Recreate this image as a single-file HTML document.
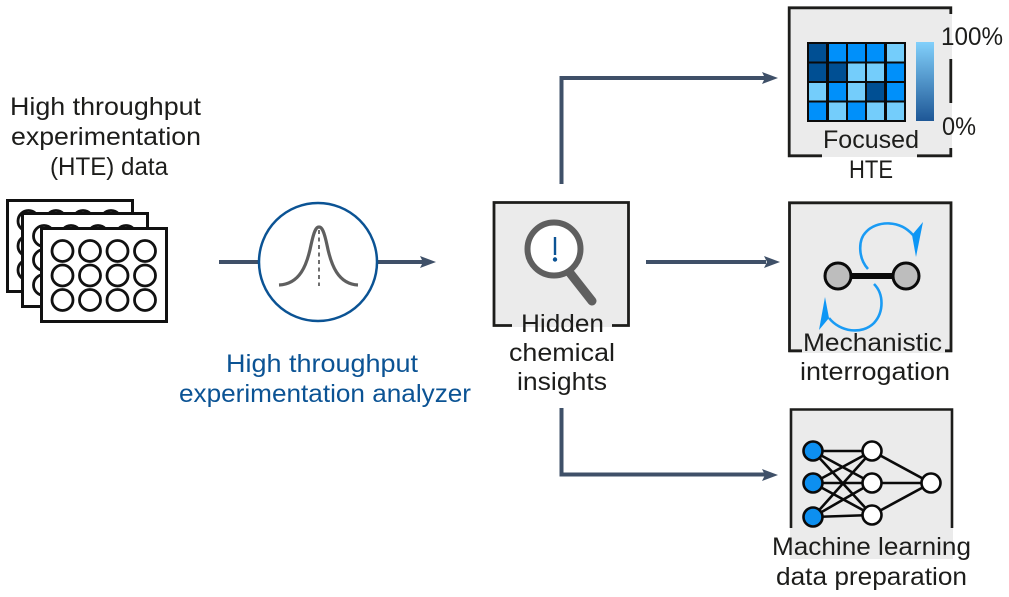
<!DOCTYPE html>
<html><head><meta charset="utf-8"><style>
html,body{margin:0;padding:0;background:#fff;width:1009px;height:597px;overflow:hidden}
svg{display:block}
text{font-family:"Liberation Sans",sans-serif;font-size:25px;fill:#1d1d1b}
.b{fill:#0b5394}
</style></head><body>
<svg width="1009" height="597" viewBox="0 0 1009 597" xmlns="http://www.w3.org/2000/svg">
<!-- plates -->
<g stroke="#111" fill="#fff">
<rect x="7.500" y="200.500" width="125" height="91" stroke-width="3"/>
<g fill="none" stroke-width="2.800"><circle cx="28.500" cy="221" r="10.500"/><circle cx="28.500" cy="246" r="10.500"/><circle cx="28.500" cy="270" r="10.500"/><circle cx="56" cy="221" r="10.500"/><circle cx="83" cy="221" r="10.500"/><circle cx="111" cy="221" r="10.500"/></g>
<rect x="22.500" y="213.500" width="125" height="93" stroke-width="3"/>
<g fill="none" stroke-width="2.800"><circle cx="44" cy="236" r="10.500"/><circle cx="44" cy="260" r="10.500"/><circle cx="44" cy="285" r="10.500"/><circle cx="71" cy="236" r="10.500"/><circle cx="98" cy="236" r="10.500"/><circle cx="126" cy="236" r="10.500"/></g>
<rect x="41.500" y="228.500" width="125" height="93" stroke-width="3"/>
<g fill="none" stroke-width="2.800">
<circle cx="62.500" cy="251" r="10.500"/><circle cx="90" cy="251" r="10.500"/><circle cx="117.500" cy="251" r="10.500"/><circle cx="145" cy="251" r="10.500"/>
<circle cx="62.500" cy="275.500" r="10.500"/><circle cx="90" cy="275.500" r="10.500"/><circle cx="117.500" cy="275.500" r="10.500"/><circle cx="145" cy="275.500" r="10.500"/>
<circle cx="62.500" cy="300" r="10.500"/><circle cx="90" cy="300" r="10.500"/><circle cx="117.500" cy="300" r="10.500"/><circle cx="145" cy="300" r="10.500"/>
</g></g>
<!-- left labels -->
<text x="10" y="115" textLength="191" lengthAdjust="spacingAndGlyphs">High throughput</text>
<text x="11" y="145" textLength="190" lengthAdjust="spacingAndGlyphs">experimentation</text>
<text x="50" y="175" textLength="118" lengthAdjust="spacingAndGlyphs">(HTE) data</text>
<!-- analyzer -->
<g stroke="#3f5068" stroke-width="4" fill="none"><path d="M219 262H259M378 262H424"/></g>
<path d="M420 256L436 262L420 268L423 262Z" fill="#3f5068"/>
<circle cx="318" cy="262" r="59" fill="#fff" stroke="#0b5394" stroke-width="2.500"/>
<path d="M279 285C300 284 307 265 311 245C314 231 316 227 319 227C322 227 324 231 327 245C331 265 338 284 358 285" fill="none" stroke="#5f5f5f" stroke-width="3.200"/>
<path d="M319 230V286" stroke="#5f5f5f" stroke-width="1.800" stroke-dasharray="4 3.500" fill="none"/>
<text class="b" x="226" y="372" textLength="192" lengthAdjust="spacingAndGlyphs">High throughput</text>
<text class="b" x="179" y="402" textLength="292" lengthAdjust="spacingAndGlyphs">experimentation analyzer</text>
<!-- center box -->
<rect x="493" y="202" width="136" height="125" fill="#ebebeb"/>
<path d="M512 325.500H494V202.500H628.500V325.500H612" fill="none" stroke="#1d1d1b" stroke-width="2.800"/>
<path d="M570 273L592 301" stroke="#5f5f5f" stroke-width="9" stroke-linecap="round"/>
<circle cx="554" cy="249" r="26.500" fill="#fff" stroke="#5f5f5f" stroke-width="6"/>
<path d="M555 237L555 255" stroke="#0b5394" stroke-width="2.400"/><circle cx="555" cy="259.500" r="2.200" fill="#0b5394"/>
<text x="521" y="332" textLength="83" lengthAdjust="spacingAndGlyphs">Hidden</text>
<text x="509" y="361" textLength="106" lengthAdjust="spacingAndGlyphs">chemical</text>
<text x="517" y="390" textLength="90" lengthAdjust="spacingAndGlyphs">insights</text>
<!-- connectors -->
<g stroke="#3f5068" stroke-width="4" fill="none"><path d="M561.500 184V78H766"/><path d="M646 262H766"/><path d="M561.500 408V474.500H766"/></g>
<g fill="#3f5068"><path d="M762 72L778 78L762 84L765 78Z"/><path d="M764 256L780 262L764 268L767 262Z"/><path d="M762 469L778 475L762 481L765 475Z"/></g>
<!-- focused box -->
<rect x="789" y="7" width="163" height="150" fill="#ebebeb"/>
<path d="M822 155.800H789.200V7.800H950.800V14M950.800 59V103M950.800 148V155.800H917" fill="none" stroke="#1d1d1b" stroke-width="2.800"/>
<rect x="807" y="42" width="99" height="80" fill="#0a0a0a"/>
<g fill="#0090fa">
<rect x="809" y="44" width="17" height="17.500" fill="#004f93"/><rect x="829" y="44" width="17" height="17.500"/><rect x="848" y="44" width="17" height="17.500"/><rect x="867" y="44" width="17" height="17.500"/><rect x="887" y="44" width="17" height="17.500" fill="#74cdfb"/>
<rect x="809" y="63.500" width="17" height="17.500" fill="#004f93"/><rect x="829" y="63.500" width="17" height="17.500" fill="#004f93"/><rect x="848" y="63.500" width="17" height="17.500" fill="#74cdfb"/><rect x="867" y="63.500" width="17" height="17.500" fill="#74cdfb"/><rect x="887" y="63.500" width="17" height="17.500"/>
<rect x="809" y="83" width="17" height="17.500" fill="#74cdfb"/><rect x="829" y="83" width="17" height="17.500"/><rect x="848" y="83" width="17" height="17.500" fill="#74cdfb"/><rect x="867" y="83" width="17" height="17.500" fill="#004f93"/><rect x="887" y="83" width="17" height="17.500"/>
<rect x="809" y="102.500" width="17" height="17.500"/><rect x="829" y="102.500" width="17" height="17.500" fill="#74cdfb"/><rect x="848" y="102.500" width="17" height="17.500"/><rect x="867" y="102.500" width="17" height="17.500" fill="#74cdfb"/><rect x="887" y="102.500" width="17" height="17.500" fill="#74cdfb"/>
</g>
<defs><linearGradient id="g" x1="0" y1="0" x2="0" y2="1"><stop offset="0" stop-color="#82d0fb"/><stop offset="1" stop-color="#1e5796"/></linearGradient></defs>
<rect x="916" y="42" width="18" height="79" fill="url(#g)"/>
<text x="941" y="45" textLength="62" lengthAdjust="spacingAndGlyphs">100%</text>
<text x="942" y="135" textLength="34" lengthAdjust="spacingAndGlyphs">0%</text>
<text x="823" y="148" textLength="96" lengthAdjust="spacingAndGlyphs">Focused</text>
<text x="849" y="178" textLength="44" lengthAdjust="spacingAndGlyphs">HTE</text>
<!-- mechanistic box -->
<rect x="789" y="202" width="163" height="151" fill="#ebebeb"/>
<path d="M802 350.800H789.500V202.800H951V350.800H945" fill="none" stroke="#1d1d1b" stroke-width="2.800"/>
<path d="M838 276H906" stroke="#0a0a0a" stroke-width="6"/>
<circle cx="838" cy="276" r="13" fill="#bdbdbd" stroke="#0a0a0a" stroke-width="3"/>
<circle cx="906" cy="276" r="13" fill="#bdbdbd" stroke="#0a0a0a" stroke-width="3"/>
<g fill="none" stroke="#1a9bf4" stroke-width="2.600">
<path d="M868 269C858 258 858 240 866 232C876 221 899 219 913 235"/>
<path d="M874 284C884 294 884 312 874 323C862 335 840 332 829 318"/>
</g>
<g fill="#0d96f5"><path d="M923 222L916 257L912 235Z"/><path d="M825 297L819 330L829 318Z"/></g>
<text x="803" y="351" textLength="139" lengthAdjust="spacingAndGlyphs">Mechanistic</text>
<text x="800" y="380" textLength="150" lengthAdjust="spacingAndGlyphs">interrogation</text>
<!-- ML box -->
<rect x="790" y="409" width="163" height="150" fill="#ebebeb"/>
<path d="M791 528V409.500H952V528" fill="none" stroke="#1d1d1b" stroke-width="2.600"/>
<g stroke="#0a0a0a" stroke-width="2.600" fill="none">
<path d="M813 451L872 451M813 451L872 483M813 451L872 515M813 483L872 451M813 483L872 483M813 483L872 515M813 517L872 451M813 517L872 483M813 517L872 515M872 451L931 483M872 483L931 483M872 515L931 483"/>
</g>
<g stroke="#0a0a0a" stroke-width="2.600">
<circle cx="813" cy="451" r="9.500" fill="#0d8ff0"/><circle cx="813" cy="483" r="9.500" fill="#0d8ff0"/><circle cx="813" cy="517" r="9.500" fill="#0d8ff0"/>
<circle cx="872" cy="451" r="9.500" fill="#fff"/><circle cx="872" cy="483" r="9.500" fill="#fff"/><circle cx="872" cy="515" r="9.500" fill="#fff"/>
<circle cx="931" cy="483" r="9.500" fill="#fff"/>
</g>
<text x="772" y="555" textLength="199" lengthAdjust="spacingAndGlyphs">Machine learning</text>
<text x="776" y="585" textLength="191" lengthAdjust="spacingAndGlyphs">data preparation</text>
</svg>
</body></html>
